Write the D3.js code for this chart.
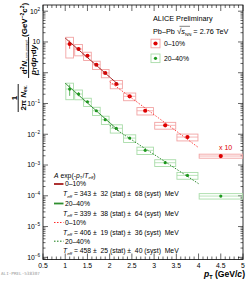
<!DOCTYPE html>
<html>
<head>
<meta charset="utf-8">
<script src="https://cdn.jsdelivr.net/npm/d3@7"></script>
<style>
  body { margin: 0; background: #fff; }
  svg { display: block; font-family: "Liberation Sans", Arial, sans-serif; }
</style>
</head>
<body>
<svg id="chart" width="252" height="284"></svg>
<script>
// pT bins (GeV/c)
var binLo = [1.0, 1.2, 1.4, 1.6, 1.8, 2.0, 2.3, 2.6, 3.0, 3.5, 4.0];
var binHi = [1.2, 1.4, 1.6, 1.8, 2.0, 2.3, 2.6, 3.0, 3.5, 4.0, 5.0];
var ptMid = [1.1, 1.3, 1.5, 1.7, 1.9, 2.15, 2.45, 2.8, 3.25, 3.75, 4.5];

// 0-10% (last point already x10)
var yield010 = [8.6, 5.9, 3.57, 1.82, 0.98, 0.43, 0.171, 0.058, 0.0195, 0.0081, 0.00196];
var stat010  = [0.30, 0.10, 0.06, 0.05, 0.05, 0.05, 0.05, 0.05, 0.05, 0.05, 0.05];
var syst010  = [0.65, 0.40, 0.30, 0.30, 0.30, 0.30, 0.28, 0.27, 0.25, 0.25, 0.15];

// 20-40%
var yield2040 = [0.295, 0.203, 0.114, 0.058, 0.0297, 0.0156, 0.0075, 0.0030, 0.00119, 0.00046, 0.000098];
var stat2040  = [0.40, 0.15, 0.08, 0.06, 0.06, 0.06, 0.06, 0.06, 0.06, 0.06, 0.08];
var syst2040  = [0.55, 0.35, 0.30, 0.30, 0.30, 0.30, 0.28, 0.27, 0.25, 0.25, 0.20];

// fits A exp(-pT/Teff)
var fitNames = ["0–10%", "20–40%", "0–10%", "20–40%"];
var fitA     = [247, 8.7, 70, 1.54];
var fitT     = [0.343, 0.339, 0.406, 0.458];
var fitLo    = [1.0, 1.0, 2.0, 2.0];
var fitHi    = [2.2, 2.2, 4.0, 4.0];
var fitTeff  = ["343", "339", "406", "458"];
var fitStat  = ["32", "38", "19", "25"];
var fitSyst  = ["68", "64", "36", "40"];
var fitColor = ["#a51c1c", "#2f8f2f", "#ff2a2a", "#137a13"];
var fitDash  = [null, null, "1.5,1.5", "1.5,1.5"];

var xTicks = [0.5, 1, 1.5, 2, 2.5, 3, 3.5, 4, 4.5, 5];
var yExps  = [-6, -5, -4, -3, -2, -1, 0, 1, 2];

var red = "#dd0000", redBox = "#f2a3a3";
var green = "#1e9a1e", greenBox = "#a8dca8";

var svg = d3.select("#chart");
var L = 43, R = 243, T = 5, B = 259.5;

var x = d3.scaleLinear().domain([0.5, 5]).range([L, R]);
var y = d3.scaleLog().domain([8.5e-7, 159]).range([B, T]);

// frame
svg.append("rect").attr("x", L).attr("y", T).attr("width", R - L).attr("height", B - T)
  .attr("fill", "none").attr("stroke", "#000").attr("stroke-width", 0.8);

var tk = svg.append("g").attr("stroke", "#000").attr("stroke-width", 0.6);
// x ticks, bottom and top
for (var i = 5; i <= 50; i++) {
  var v = i / 10, px = x(v), len = (i % 5 == 0) ? 6 : 3;
  tk.append("line").attr("x1", px).attr("x2", px).attr("y1", B).attr("y2", B - len);
  tk.append("line").attr("x1", px).attr("x2", px).attr("y1", T).attr("y2", T + len);
}
// y ticks, left and right
for (var e = -7; e <= 2; e++) {
  for (var m = 1; m <= 9; m++) {
    var val = m * Math.pow(10, e);
    if (val < y.domain()[0] || val > y.domain()[1]) continue;
    var py = y(val), len2 = (m == 1) ? 5 : 2.5;
    tk.append("line").attr("x1", L).attr("x2", L + len2).attr("y1", py).attr("y2", py);
    tk.append("line").attr("x1", R).attr("x2", R - len2).attr("y1", py).attr("y2", py);
  }
}

// tick labels
svg.selectAll(".xl").data(xTicks).enter().append("text")
  .attr("x", d => x(d)).attr("y", 268).attr("text-anchor", "middle")
  .attr("font-size", 6.8).text(d => d);

yExps.forEach(function(ex) {
  var t = svg.append("text").attr("x", 40).attr("y", y(Math.pow(10, ex)) + 2.4)
    .attr("text-anchor", "end").attr("font-size", 6.8);
  if (ex == 0) t.text("1");
  else if (ex == 1) t.text("10");
  else {
    t.append("tspan").text("10");
    t.append("tspan").attr("dy", -2.8).attr("font-size", 4.6).text(ex < 0 ? "−" + (-ex) : ex);
  }
});

// axis titles
var xt = svg.append("text").attr("x", 245).attr("y", 277).attr("text-anchor", "end")
  .attr("font-size", 8.6).attr("font-weight", "bold");
xt.append("tspan").attr("font-style", "italic").text("p");
xt.append("tspan").attr("dy", 2).attr("font-size", 5.5).text("T");
xt.append("tspan").attr("dy", -2).text(" (GeV/");
xt.append("tspan").attr("font-style", "italic").text("c");
xt.append("tspan").text(")");

var yt = svg.append("g").attr("transform", "rotate(-90)").attr("font-weight", "bold");
yt.append("text").attr("x", -98).attr("y", 16.8).attr("text-anchor", "middle").attr("font-size", 8).text("1");
yt.append("line").attr("x1", -112).attr("x2", -84).attr("y1", 18.2).attr("y2", 18.2).attr("stroke", "#000").attr("stroke-width", 0.9);
var dn = yt.append("text").attr("x", -98).attr("y", 25.5).attr("text-anchor", "middle").attr("font-size", 8);
dn.append("tspan").text("2π ");
dn.append("tspan").attr("font-style", "italic").text("N");
dn.append("tspan").attr("dy", 1.8).attr("font-size", 5).text("ev.");
var nu = yt.append("text").attr("x", -57).attr("y", 26.6).attr("text-anchor", "middle").attr("font-size", 8);
nu.append("tspan").text("d");
nu.append("tspan").attr("dy", -3).attr("font-size", 5).text("2");
nu.append("tspan").attr("dy", 3).attr("font-style", "italic").text("N");
nu.append("tspan").attr("dy", 1.8).attr("font-size", 3.6).attr("font-weight", "normal").text("γ,non-prompt");
yt.append("line").attr("x1", -78).attr("x2", -37).attr("y1", 28.6).attr("y2", 28.6).attr("stroke", "#000").attr("stroke-width", 0.9);
var de = yt.append("text").attr("x", -60).attr("y", 35.6).attr("text-anchor", "middle").attr("font-size", 8);
de.append("tspan").attr("font-style", "italic").text("p");
de.append("tspan").attr("dy", 1.8).attr("font-size", 5).text("T");
de.append("tspan").attr("dy", -1.8).text("d");
de.append("tspan").attr("font-style", "italic").text("p");
de.append("tspan").attr("dy", 1.8).attr("font-size", 5).text("T");
de.append("tspan").attr("dy", -1.8).text("d");
de.append("tspan").attr("font-style", "italic").text("y");
var un = yt.append("text").attr("x", -37).attr("y", 26.6).attr("font-size", 8);
un.append("tspan").text("(GeV");
un.append("tspan").attr("dy", -3).attr("font-size", 5).text("−2");
un.append("tspan").attr("dy", 3).attr("font-style", "italic").text("c");
un.append("tspan").attr("dy", -3).attr("font-size", 5).text("2");
un.append("tspan").attr("dy", 3).text(")");

// data layers
var plot = svg.append("g");

function drawSeries(vals, stat, syst, col, boxCol, r) {
  var g = plot.append("g");
  vals.forEach(function(v, i) {
    g.append("rect")
      .attr("x", x(binLo[i]) + 0.6).attr("width", x(binHi[i]) - x(binLo[i]) - 1.2)
      .attr("y", y(v * (1 + syst[i]))).attr("height", y(v * (1 - syst[i])) - y(v * (1 + syst[i])))
      .attr("fill", "none").attr("stroke", boxCol).attr("stroke-width", 0.9);
    g.append("line").attr("x1", x(binLo[i]) + 0.6).attr("x2", x(binHi[i]) - 0.6)
      .attr("y1", y(v)).attr("y2", y(v)).attr("stroke", boxCol).attr("stroke-width", 0.8);
  });
  vals.forEach(function(v, i) {
    g.append("line").attr("x1", x(ptMid[i])).attr("x2", x(ptMid[i]))
      .attr("y1", y(v * (1 + stat[i]))).attr("y2", y(v * (1 - stat[i])))
      .attr("stroke", col).attr("stroke-width", 0.7);
    g.append("circle").attr("cx", x(ptMid[i])).attr("cy", y(v)).attr("r", r).attr("fill", col);
  });
}
drawSeries(yield010, stat010, syst010, red, redBox, 2.1);
drawSeries(yield2040, stat2040, syst2040, green, greenBox, 1.6);

// fit curves
var line = d3.line().x(d => x(d[0])).y(d => y(d[1]));
fitA.forEach(function(A, k) {
  var pts = d3.range(0, 41).map(function(j) {
    var pt = fitLo[k] + (fitHi[k] - fitLo[k]) * j / 40;
    return [pt, A * Math.exp(-pt / fitT[k])];
  });
  plot.append("path").attr("d", line(pts)).attr("fill", "none")
    .attr("stroke", fitColor[k]).attr("stroke-width", k < 2 ? 1 : 0.9)
    .attr("stroke-dasharray", fitDash[k]);
});

svg.append("text").attr("x", 219).attr("y", 150).attr("fill", red).attr("font-size", 7).text("x 10");

// top-right legend
svg.append("text").attr("x", 153).attr("y", 21).attr("font-size", 7.3).text("ALICE Preliminary");
var pb = svg.append("text").attr("x", 153).attr("y", 34).attr("font-size", 7.3);
pb.append("tspan").text("Pb–Pb ");
pb.append("tspan").attr("font-size", 8).text("√");
pb.append("tspan").attr("font-style", "italic").text("s");
pb.append("tspan").attr("dy", 1.5).attr("font-size", 4.4).text("NN");
pb.append("tspan").attr("dy", -1.5).text(" = 2.76 TeV");
svg.append("line").attr("x1", 179.5).attr("x2", 190).attr("y1", 26.3).attr("y2", 26.3).attr("stroke", "#000").attr("stroke-width", 0.5);

[[red, redBox, "0–10%", 43.5, 2.1], [green, greenBox, "20–40%", 58.3, 1.6]].forEach(function(e) {
  svg.append("rect").attr("x", 151).attr("y", e[3] - 4.3).attr("width", 9).attr("height", 8.6)
    .attr("fill", "none").attr("stroke", e[1]).attr("stroke-width", 0.9);
  svg.append("circle").attr("cx", 155.5).attr("cy", e[3]).attr("r", e[4]).attr("fill", e[0]);
  svg.append("text").attr("x", 164).attr("y", e[3] + 2.4).attr("font-size", 6.8).text(e[2]);
});

// bottom-left legend
var hd = svg.append("text").attr("x", 54).attr("y", 177.5).attr("font-size", 6.8);
hd.append("tspan").attr("font-style", "italic").text("A");
hd.append("tspan").text(" exp(-");
hd.append("tspan").attr("font-style", "italic").text("p");
hd.append("tspan").attr("dy", 1.5).attr("font-size", 4.4).text("T");
hd.append("tspan").attr("dy", -1.5).text("/");
hd.append("tspan").attr("font-style", "italic").text("T");
hd.append("tspan").attr("dy", 1.5).attr("font-size", 4.4).attr("font-style", "italic").text("eff");
hd.append("tspan").attr("dy", -1.5).text(")");

var rowY = [184, 203.5, 222.5, 241.2];
fitA.forEach(function(A, k) {
  var ry = rowY[k];
  svg.append("line").attr("x1", 54).attr("x2", 63.5).attr("y1", ry).attr("y2", ry)
    .attr("stroke", fitColor[k]).attr("stroke-width", k < 2 ? 1.8 : 1)
    .attr("stroke-dasharray", fitDash[k]);
  svg.append("text").attr("x", 65).attr("y", ry + 2.4).attr("font-size", 6.8).text(fitNames[k]);
  var tt = svg.append("text").attr("x", 63).attr("y", ry + 12).attr("font-size", 6.8)
    .attr("xml:space", "preserve");
  tt.append("tspan").attr("font-style", "italic").text("T");
  tt.append("tspan").attr("dy", 1.5).attr("font-size", 4.4).attr("font-style", "italic").text("eff");
  tt.append("tspan").attr("dy", -1.5).text(" = " + fitTeff[k] + " ±  " + fitStat[k] + " (stat) ±  " + fitSyst[k] + " (syst)  MeV");
});

svg.append("text").attr("x", 1).attr("y", 275).attr("font-size", 4.3).attr("fill", "#999")
  .attr("font-family", "DejaVu Sans Mono, monospace").text("ALI-PREL-538307");
</script>
</body>
</html>
